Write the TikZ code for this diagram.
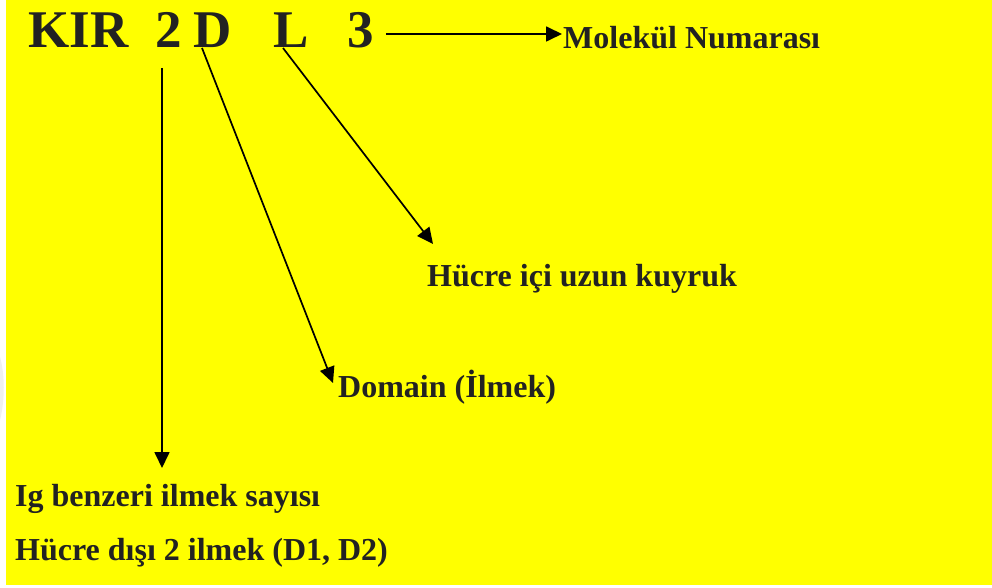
\documentclass[tikz,border=0pt]{standalone}
\usepackage{fontspec}
\setmainfont{Liberation Serif}
\usetikzlibrary{arrows.meta}
\definecolor{bgyellow}{RGB}{255,255,0}
\definecolor{ink}{RGB}{34,34,34}
\tikzset{
  big/.style={anchor=base west,inner sep=0pt,text=ink,font=\fontsize{53}{60}\selectfont\bfseries},
  lbl/.style={anchor=base west,inner sep=0pt,text=ink,font=\fontsize{32}{38}\selectfont\bfseries},
  pointer/.style={draw=black,line width=1.7pt,-{Triangle[length=16pt,width=15pt]}}
}
\begin{document}
\begin{tikzpicture}[x=1pt,y=-1pt]
  \useasboundingbox (0,0) rectangle (992,588);
  \fill[white] (0,0) rectangle (992,588);
  \fill[bgyellow] (6,0) rectangle (992,585);
  \fill[black!6] (0,357) .. controls (5,375) and (5,400) .. (0,420) -- cycle;

  % gene name, letter by letter
  \node[big] (kir) at (28,48) {KIR};
  \node[big] (two) at (155,48) {2};
  \node[big] (dom) at (193,48) {D};
  \node[big] (tail) at (273,48) {L};
  \node[big] (num) at (347,48) {3};

  % labels
  \node[lbl] (molno) at (563,49) {Molekül Numarası};
  \node[lbl] (tailtxt) at (427,286) {Hücre içi uzun kuyruk};
  \node[lbl] (domtxt) at (338,397) {Domain (İlmek)};
  \node[lbl] (igtxt) at (15,506) {Ig benzeri ilmek sayısı};
  \node[lbl] (extxt) at (15,560) {Hücre dışı 2 ilmek (D1, D2)};

  % arrow tips
  \coordinate (numtip) at (562,34);
  \coordinate (tailtip) at (433,244);
  \coordinate (domtip) at (333,383);
  \coordinate (twotip) at (162,468);

  \draw[pointer] ([xshift=12pt,yshift=14pt]num.base east) -- (numtip);
  \draw[pointer] ([xshift=10pt]tail.base west) -- (tailtip);
  \draw[pointer] ([xshift=9pt]dom.base west) -- (domtip);
  \draw[pointer] ([xshift=7pt,yshift=-20pt]two.base west) -- (twotip);
\end{tikzpicture}
\end{document}
